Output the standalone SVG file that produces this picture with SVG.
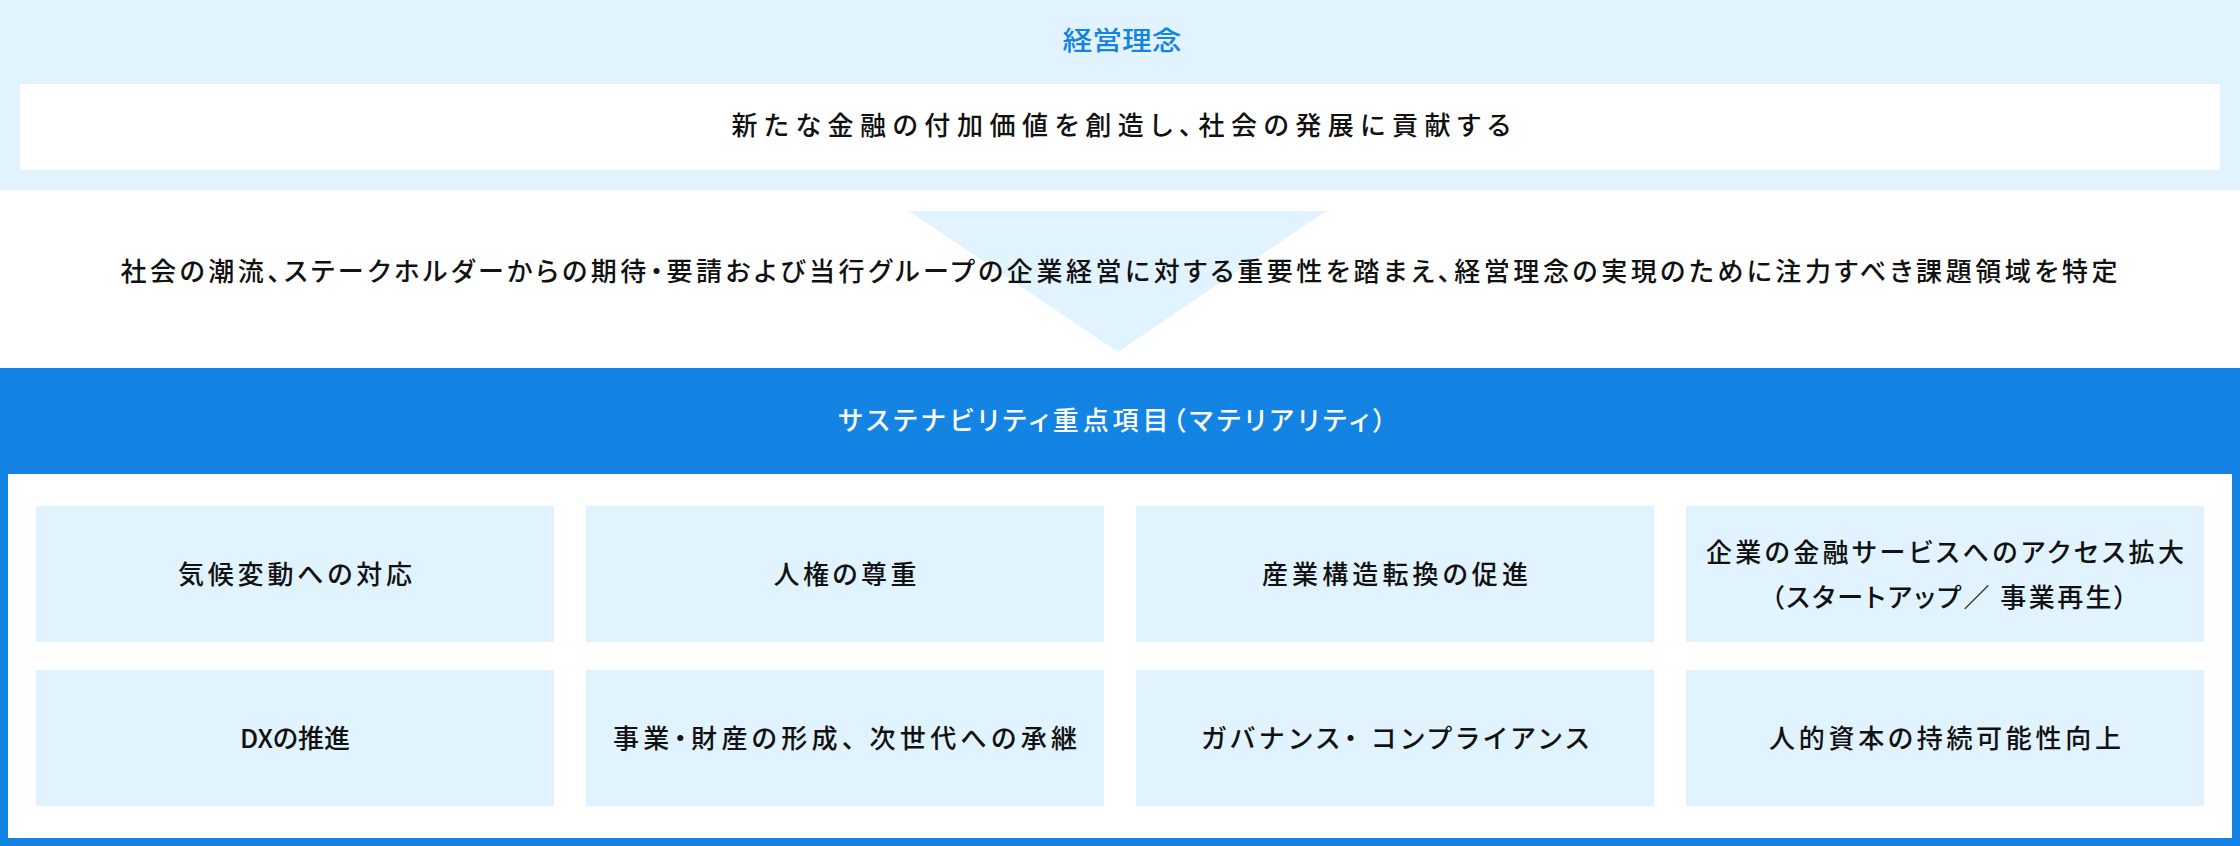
<svg xmlns="http://www.w3.org/2000/svg" width="2240" height="846" viewBox="0 0 2240 846">
<style>
text{font-family:"Noto Sans CJK JP","Noto Sans",sans-serif;font-size:26px;font-weight:500;fill:#111;text-anchor:middle;font-feature-settings:"palt"}
.lb{fill:#E1F3FE}
.blue{fill:#1384E4}
.ttl{fill:#1384E4}
.wt{fill:#fff}
</style>
<rect x="0" y="0" width="2240" height="846" fill="#fff"/>
<g id="philosophy">
<rect class="lb" x="0" y="0" width="2240" height="190"/>
<text class="ttl" x="1122" y="50" textLength="119" lengthAdjust="spacingAndGlyphs">経営理念</text>
<rect fill="#fff" x="20" y="84" width="2200" height="86"/>
<text x="1121" y="135" font-size="27" textLength="779" lengthAdjust="spacing">新たな金融の付加価値を創造し、社会の発展に貢献する</text>
</g>
<g id="connectors">
<polygon class="lb" points="909,211 1326,211 1118,352"/>
</g>
<g id="process">
<text x="1119" y="281" textLength="1997" lengthAdjust="spacing">社会の潮流、ステークホルダーからの期待・要請および当行グループの企業経営に対する重要性を踏まえ、経営理念の実現のために注力すべき課題領域を特定</text>
</g>
<g id="materiality">
<rect class="blue" x="0" y="368" width="2240" height="478"/>
<rect fill="#fff" x="8" y="474" width="2224" height="364"/>
<text class="wt" x="1112" y="430" textLength="548" lengthAdjust="spacing">サステナビリティ重点項目（マテリアリティ）</text>
</g>
<g id="card-climate">
<rect class="lb" x="36" y="506" width="518" height="136"/>
<text x="295" y="584" textLength="234" lengthAdjust="spacing">気候変動への対応</text>
</g>
<g id="card-human-rights">
<rect class="lb" x="586" y="506" width="518" height="136"/>
<text x="845" y="584" textLength="143" lengthAdjust="spacing">人権の尊重</text>
</g>
<g id="card-industry">
<rect class="lb" x="1136" y="506" width="518" height="136"/>
<text x="1395" y="584" textLength="266" lengthAdjust="spacing">産業構造転換の促進</text>
</g>
<g id="card-access">
<rect class="lb" x="1686" y="506" width="518" height="136"/>
<text x="1945" y="562" textLength="478" lengthAdjust="spacing">企業の金融サービスへのアクセス拡大</text>
<text x="1949" y="607" textLength="356" lengthAdjust="spacing">（スタートアップ／ 事業再生）</text>
</g>
<g id="card-dx">
<rect class="lb" x="36" y="670" width="518" height="136"/>
<text x="295" y="748" font-size="28">DXの推進</text>
</g>
<g id="card-succession">
<rect class="lb" x="586" y="670" width="518" height="136"/>
<text x="845" y="748" textLength="464" lengthAdjust="spacing">事業・財産の形成、 次世代への承継</text>
</g>
<g id="card-governance">
<rect class="lb" x="1136" y="670" width="518" height="136"/>
<text x="1395" y="748" textLength="388" lengthAdjust="spacing">ガバナンス・ コンプライアンス</text>
</g>
<g id="card-human-capital">
<rect class="lb" x="1686" y="670" width="518" height="136"/>
<text x="1945" y="748" textLength="352" lengthAdjust="spacing">人的資本の持続可能性向上</text>
</g>
</svg>
